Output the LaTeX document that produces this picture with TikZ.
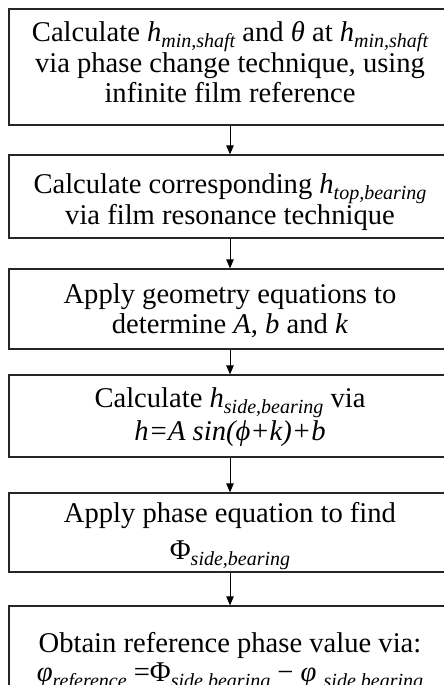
\documentclass[tikz,border=0pt]{standalone}
\usepackage{fontspec}
\setmainfont{Liberation Serif}
\usetikzlibrary{arrows.meta}
\newcommand\subx[1]{\raisebox{-6pt}{\fontsize{20}{20}\selectfont\itshape #1}}
\newcommand\hh[1]{\textit{h}\subx{#1}}
\begin{document}
\begin{tikzpicture}[x=1pt,y=-1pt,
  stepbox/.style={draw=black!85,line width=1.3pt,minimum width=442pt,inner sep=0pt},
  steptext/.style={inner sep=0pt,align=center,font=\fontsize{28.6}{29.5}\selectfont},
  flow/.style={draw=black,line width=0.8pt,-{Triangle[length=9pt,width=7.5pt]}}]
\useasboundingbox (0,0) rectangle (444,685);
\node[stepbox,minimum height=116pt] (b1) at (230,67) {};
\node[stepbox,minimum height=83pt] (b2) at (230,196.5) {};
\node[stepbox,minimum height=80pt] (b3) at (230,309) {};
\node[stepbox,minimum height=82pt] (b4) at (230,416) {};
\node[stepbox,minimum height=79pt] (b5) at (230,532.5) {};
\node[stepbox,minimum height=114pt] (b6) at (230,663) {};
\node[steptext] (t1) at (230,62) {Calculate \hh{min,shaft} and \textit{θ} at \hh{min,shaft}\\via phase change technique, using\\infinite film reference};
\node[steptext] (t2) at (230,202) {Calculate corresponding \hh{top,bearing}\\via film resonance technique};
\node[steptext] (t3) at (230,311) {Apply geometry equations to\\determine \textit{A}, \textit{b} and \textit{k}};
\node[steptext] (t4) at (230,417) {Calculate \hh{side,bearing} via\\[2pt]\textit{h=A sin(ϕ+k)+b}};
\node[steptext] (t5) at (230,536) {Apply phase equation to find\\[7pt]Φ\subx{side,bearing}};
\node[steptext] (t6) at (230,662) {Obtain reference phase value via:\\\textit{φ}\subx{reference} =Φ\subx{side,bearing} − \textit{φ} \subx{side,bearing}};
\draw[flow] (b1) -- (b2);
\draw[flow] (b2) -- (b3);
\draw[flow] (b3) -- (b4);
\draw[flow] (b4) -- (b5);
\draw[flow] (b5) -- (b6);
\end{tikzpicture}
\end{document}
